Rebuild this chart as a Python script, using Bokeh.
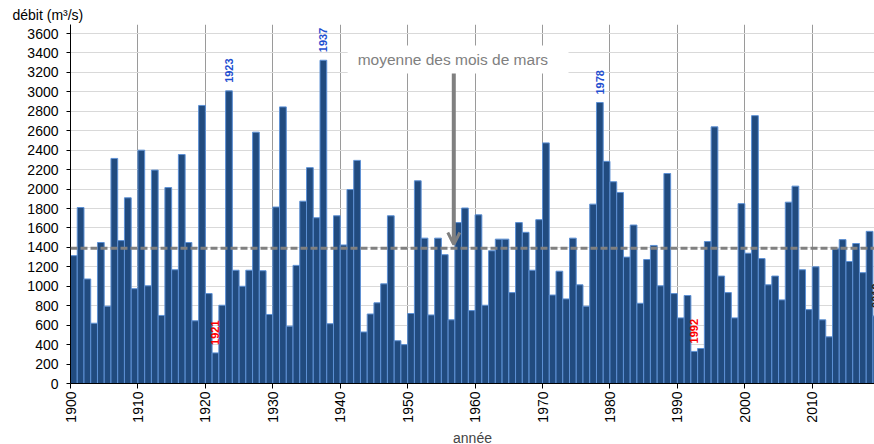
import math
from bokeh.plotting import figure
from bokeh.models import (Range1d, FixedTicker, SingleIntervalTicker, Span, Label,
                          BoxAnnotation, Arrow, OpenHead, Title, ColumnDataSource)
from bokeh.core.properties import value
from bokeh.embed import file_html
from bokeh.resources import INLINE

years = list(range(1900, 2020))
debit = [
    1315, 1810, 1075, 620, 1450, 795, 2315, 1470, 1910, 975,
    2400, 1005, 2195, 700, 2015, 1170, 2355, 1450, 645, 2860,
    925, 315, 805, 3010, 1165, 1000, 1165, 2585, 1160, 710,
    1815, 2845, 590, 1215, 1875, 2220, 1705, 3325, 615, 1725,
    1425, 1995, 2295, 530, 715, 830, 1025, 1725, 440, 400,
    720, 2085, 1495, 705, 1495, 1325, 655, 1655, 1805, 750,
    1735, 805, 1365, 1485, 1485, 935, 1655, 1555, 1165, 1685,
    2475, 910, 1155, 870, 1495, 1015, 795, 1845, 2890, 2285,
    2075, 1965, 1300, 1630, 825, 1275, 1420, 1005, 2160, 925,
    675, 905, 330, 360, 1460, 2640, 1105, 935, 675, 1850,
    1340, 2755, 1285, 1015, 1105, 860, 1865, 2030, 1170, 760,
    1200, 655, 480, 1385, 1480, 1255, 1440, 1140, 1565, 695,
]
moyenne_mars = 1390
decades = list(range(1900, 2020, 10))
highlight_years = [1921, 1923, 1937, 1978, 1992, 2019]
highlight_colors = ["#ff0000", "#1f4fd0", "#1f4fd0", "#1f4fd0", "#ff0000", "#262626"]

FONT = "Liberation Sans"

p = figure(frame_width=804, frame_height=359, output_backend="svg", toolbar_location=None,
           x_range=Range1d(1900, 2019.23), y_range=Range1d(0, 3692.6),
           min_border_left=70, min_border_right=0, min_border_top=24,
           min_border_bottom=61)
p.outline_line_color = None
p.background_fill_color = "white"

title = Title(text="débit (m³/s)", align="left", offset=-58, standoff=3,
              text_font_size="14px", text_font_style="normal",
              text_color="#000000", text_font=FONT)
p.add_layout(title, "above")

src = ColumnDataSource(dict(x=[y + 0.5 for y in years], top=debit))
p.vbar(x="x", top="top", width=1.0, bottom=0, source=src,
       fill_color="#214b7f", line_color="#5d90d4", line_width=1)

p.add_layout(Span(location=moyenne_mars, dimension="width", line_color="#808080",
                  line_dash="7 3", line_width=3))

hy = [debit[years.index(y)] for y in highlight_years]
hsrc = ColumnDataSource(dict(x=[y + 0.5 for y in highlight_years], y=hy,
                             t=[str(y) for y in highlight_years], c=highlight_colors))
p.text(x="x", y="y", text="t", source=hsrc, angle=math.pi / 2,
       text_align="left", text_baseline="middle", y_offset=-8,
       text_font=value(FONT), text_font_style="bold", text_font_size="11px",
       text_color="c")

# annotation box + arrow
p.add_layout(BoxAnnotation(left=1941.1, right=1973.85, bottom=3189, top=3477,
                           fill_color="white", fill_alpha=1.0, line_color=None))
p.add_layout(Label(x=1956.7, y=3333, text="moyenne des mois de mars",
                   text_align="center", text_baseline="middle",
                   text_color="#808080", text_font_size="15.5px", text_font=FONT))
p.add_layout(Arrow(x_start=1956.84, y_start=3189, x_end=1956.84, y_end=1430,
                   line_color="#808080", line_width=4,
                   end=OpenHead(size=12, line_color="#808080", line_width=3)))

# axes
p.xaxis.ticker = FixedTicker(ticks=decades)
p.xaxis.major_label_orientation = math.pi / 2
p.xaxis.axis_label = "année"
p.xaxis.axis_label_text_font_style = "normal"
p.xaxis.axis_label_text_font_size = "14px"
p.xaxis.axis_label_text_font = FONT
p.xaxis.axis_label_standoff = 4
p.xaxis.major_label_text_font_size = "14px"
p.xaxis.major_label_text_font = FONT
p.xaxis.major_label_standoff = 3
p.xaxis.major_tick_out = 5
p.xaxis.major_tick_in = 0
p.xaxis.minor_tick_line_color = None
p.xaxis.axis_line_color = "#000000"
p.xaxis.major_tick_line_color = "#000000"

p.yaxis.ticker = SingleIntervalTicker(interval=200)
p.yaxis.major_label_text_font_size = "14px"
p.yaxis.major_label_text_font = FONT
p.yaxis.major_label_standoff = 8
p.yaxis.major_tick_out = 4
p.yaxis.major_tick_in = 0
p.yaxis.minor_tick_line_color = None
p.yaxis.axis_line_color = "#000000"
p.yaxis.major_tick_line_color = "#000000"
p.yaxis.major_label_text_color = "#000000"
p.xaxis.major_label_text_color = "#000000"

p.xgrid.ticker = FixedTicker(ticks=decades[1:])
p.xgrid.grid_line_color = "#9a9a9a"
p.ygrid.ticker = SingleIntervalTicker(interval=200)
p.ygrid.grid_line_color = "#d9d9d9"

open("out.html", "w").write(file_html(p, INLINE))
